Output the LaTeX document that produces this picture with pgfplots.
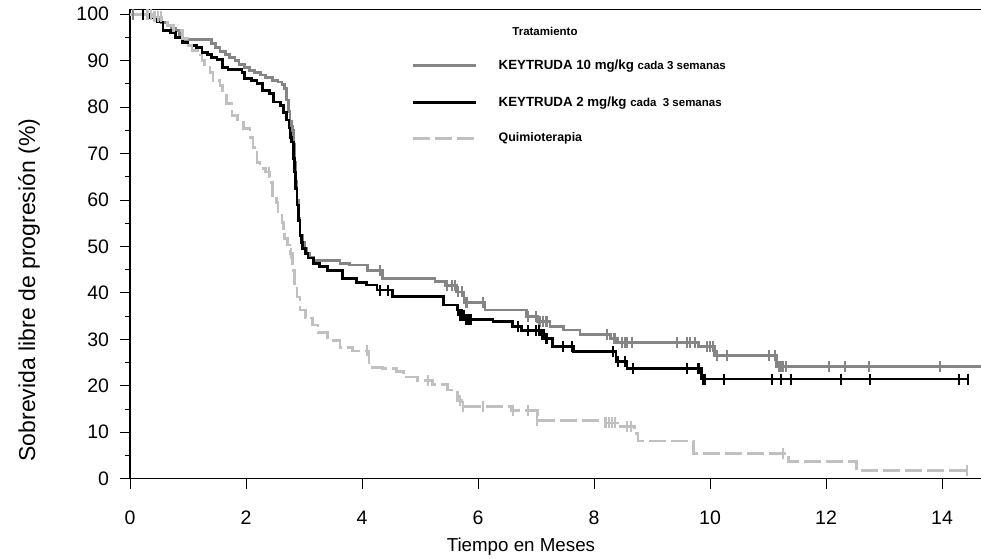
\documentclass[border=0pt]{standalone}
\usepackage{pgfplots}
\pgfplotsset{compat=1.18}
\usepackage{pgfplotstable}
\usepackage{fontspec}
\setmainfont{Liberation Sans}

\definecolor{kgray}{HTML}{858585}
\definecolor{qgray}{HTML}{C0C0C0}

% KEYTRUDA 10 mg/kg -- curva escalonada
\pgfplotstableread{
t s
0 100
0.35 99.4
0.45 98.8
0.55 98.2
0.65 97.6
0.72 97.0
0.78 96.5
0.85 95.6
0.90 94.5
1.41 93.6
1.47 92.8
1.55 92.0
1.64 91.3
1.72 90.6
1.81 90.0
1.88 89.2
1.98 88.5
2.06 87.9
2.15 87.4
2.25 86.9
2.33 86.4
2.45 85.8
2.55 85.4
2.62 84.8
2.67 84.0
2.70 81.5
2.73 79.0
2.76 77.0
2.79 75.0
2.82 72.0
2.84 68.0
2.86 64.0
2.88 60.0
2.90 56.0
2.93 52.4
2.97 50.8
3.01 49.5
3.05 48.5
3.10 47.7
3.16 47.0
3.62 46.3
3.79 46.0
4.10 44.9
4.35 43.1
5.26 42.4
5.43 41.6
5.63 40.2
5.76 38.0
6.12 36.3
6.84 35.0
7.03 33.8
7.24 32.7
7.47 32.0
7.76 31.1
8.28 30.2
8.41 29.35
9.80 28.4
10.08 26.6
11.15 24.1
14.70 24.1
}\kdiez

\pgfplotstableread{
t s
0.05 100
2.81 75.0
4.31 44.9
5.47 41.6
5.55 41.6
5.60 41.6
5.66 40.2
5.72 40.2
5.80 38.0
6.09 38.0
6.86 35.0
7.00 35.0
7.06 33.8
7.12 33.8
7.18 33.8
8.22 31.1
8.35 30.2
8.48 29.35
8.53 29.35
8.57 29.35
8.65 29.35
9.43 29.35
9.60 29.35
9.66 29.35
9.74 29.35
9.95 28.4
10.00 28.4
10.05 28.4
10.12 26.6
10.29 26.6
11.02 26.6
11.12 26.6
11.20 24.1
11.25 24.1
11.31 24.1
12.05 24.1
12.33 24.1
12.74 24.1
13.97 24.1
}\kdiezcens

% KEYTRUDA 2 mg/kg
\pgfplotstableread{
t s
0 100
0.35 99.3
0.48 98.3
0.57 96.5
0.70 96.0
0.78 95.0
0.91 93.9
1.00 93.3
1.15 92.8
1.24 91.8
1.33 91.3
1.41 90.7
1.50 90.3
1.59 90.0
1.60 88.6
1.69 88.0
1.93 87.5
1.98 86.2
2.10 85.8
2.19 85.1
2.29 83.6
2.41 83.0
2.47 81.1
2.59 80.4
2.64 78.9
2.70 77.2
2.74 75.5
2.76 74.4
2.79 72.5
2.82 69.0
2.84 66.0
2.86 62.5
2.88 58.9
2.91 55.5
2.93 52.4
2.96 50.8
2.98 49.6
3.02 48.5
3.07 47.5
3.16 46.3
3.27 45.6
3.40 44.9
3.66 43.1
3.91 42.2
4.08 41.7
4.26 40.6
4.53 39.2
5.40 37.4
5.64 36.3
5.72 35.2
5.80 34.3
6.26 33.8
6.60 32.7
6.75 31.9
7.08 31.0
7.15 30.2
7.28 28.4
7.64 27.3
8.38 25.3
8.57 23.75
9.85 21.45
14.45 21.45
}\kdos

\pgfplotstableread{
t s
0.22 100
2.76 74.4
4.31 40.6
4.45 40.6
5.66 36.3
5.70 35.2
5.75 35.2
5.80 34.3
5.84 34.3
5.88 34.3
6.69 32.7
6.86 31.9
7.00 31.9
7.05 31.9
7.10 31.0
7.13 31.0
7.18 30.2
7.47 28.4
7.62 28.4
8.33 27.3
8.41 25.3
8.53 25.3
8.67 23.75
9.60 23.75
9.80 23.75
9.88 21.45
9.91 21.45
10.24 21.45
11.07 21.45
11.22 21.45
11.40 21.45
12.26 21.45
12.76 21.45
14.29 21.45
14.45 21.45
}\kdoscens

% Quimioterapia
\pgfplotstableread{
t s
0 100
0.40 99.4
0.55 98.3
0.65 97.5
0.75 96.5
0.90 94.8
1.00 93.3
1.07 92.2
1.16 91.2
1.24 90.1
1.29 88.6
1.38 87.5
1.43 85.8
1.55 84.7
1.60 82.6
1.67 80.8
1.76 78.2
1.86 77.2
1.95 75.4
2.07 73.5
2.12 71.3
2.19 68.1
2.24 66.8
2.33 66.0
2.41 63.8
2.45 61.0
2.53 59.5
2.55 57.4
2.62 55.2
2.64 53.0
2.67 51.7
2.72 50.3
2.76 48.5
2.80 46.0
2.82 44.9
2.84 42.1
2.88 39.1
2.93 36.3
3.02 34.6
3.14 33.1
3.24 31.4
3.41 29.8
3.62 28.3
3.84 27.5
4.12 24.0
4.36 23.8
4.60 23.0
4.71 21.9
4.95 21.2
5.22 20.2
5.47 19.1
5.64 16.9
5.72 15.6
6.58 14.6
7.02 12.6
8.20 12.0
8.40 11.2
8.70 9.8
8.76 8.1
9.72 5.45
11.35 3.66
12.53 1.73
14.43 1.73
}\quimio

\pgfplotstableread{
t s
0.30 100
0.36 100
0.42 99.4
0.48 99.4
0.53 99.4
2.40 66.0
2.78 48.5
4.09 27.5
5.14 21.2
5.69 16.9
5.74 15.6
6.09 15.6
6.60 14.6
6.86 14.6
7.02 12.6
8.20 12.0
8.26 12.0
8.31 12.0
8.36 12.0
8.57 11.2
8.64 11.2
11.26 5.45
14.43 1.73
}\quimiocens

\begin{document}
\begin{tikzpicture}
\begin{axis}[
  scale only axis,
  width=853pt, height=469.2pt,
  xmin=0, xmax=14.707, ymin=0, ymax=101,
  axis line style={black, line width=1.3pt},
  xtick={0,2,...,14}, ytick={0,10,...,100},
  minor y tick num=1,
  xtick pos=bottom, ytick pos=left,
  tick align=outside,
  major tick length=10pt, minor tick length=5pt,
  tick style={black, line width=0.9pt},
  tick label style={font=\fontsize{19.5}{23}\selectfont},
  /pgf/number format/assume math mode=true,
  xticklabel style={yshift=-18.5pt},
  yticklabel style={xshift=-7.5pt},
  xlabel={Tiempo en Meses},
  xlabel style={font=\fontsize{18.75}{22}\selectfont, at={(rel axis cs:0.4583,0)}, anchor=base, yshift=-72.3pt},
  ylabel={Sobrevida libre de progresión (\%)},
  ylabel style={font=\fontsize{23}{26}\selectfont, at={(rel axis cs:0,0.402)}, anchor=center, yshift=101pt},
  legend style={at={(axis cs:4.88,81.13)}, anchor=west, xshift=-5pt, draw=none, fill=none,
    row sep=25.3pt, column sep=21.7pt, nodes={inner sep=0pt, anchor=west},
    font=\bfseries\fontsize{13.3}{15}\selectfont},
  legend cell align=left,
  legend image code/.code={\draw[#1] (0pt,0pt) -- (63pt,0pt);},
]
\coordinate (bl) at (rel axis cs:0,0);

\addplot[const plot, kgray, line width=2.8pt] table[x=t, y=s] {\kdiez};
\addlegendentry{KEYTRUDA 10 mg/kg {\fontsize{11.5}{13}\selectfont cada 3 semanas}}
\addplot[const plot, black, line width=2.8pt] table[x=t, y=s] {\kdos};
\addlegendentry{KEYTRUDA 2 mg/kg {\fontsize{11.5}{13}\selectfont cada\ \ 3 semanas}}
\addplot[const plot, qgray, line width=2.8pt, dash pattern=on 17pt off 5pt] table[x=t, y=s] {\quimio};
\addlegendentry{\fontsize{12.4}{14}\selectfont Quimioterapia}

\addplot[forget plot, only marks, mark=|, mark size=5.5pt, kgray, mark options={line width=2.4pt}] table[x=t, y=s] {\kdiezcens};
\addplot[forget plot, only marks, mark=|, mark size=5.5pt, black, mark options={line width=2.4pt}] table[x=t, y=s] {\kdoscens};
\addplot[forget plot, only marks, mark=|, mark size=5.5pt, qgray, mark options={solid, line width=2.4pt}] table[x=t, y=s] {\quimiocens};

\node[font=\bfseries\fontsize{11.5}{13}\selectfont] at (axis cs:7.155,96.2) {Tratamiento};
\end{axis}
\pgfresetboundingbox
\path (bl) ++(-130pt,-79.3pt) rectangle ++(981pt,558pt);
\end{tikzpicture}
\end{document}
